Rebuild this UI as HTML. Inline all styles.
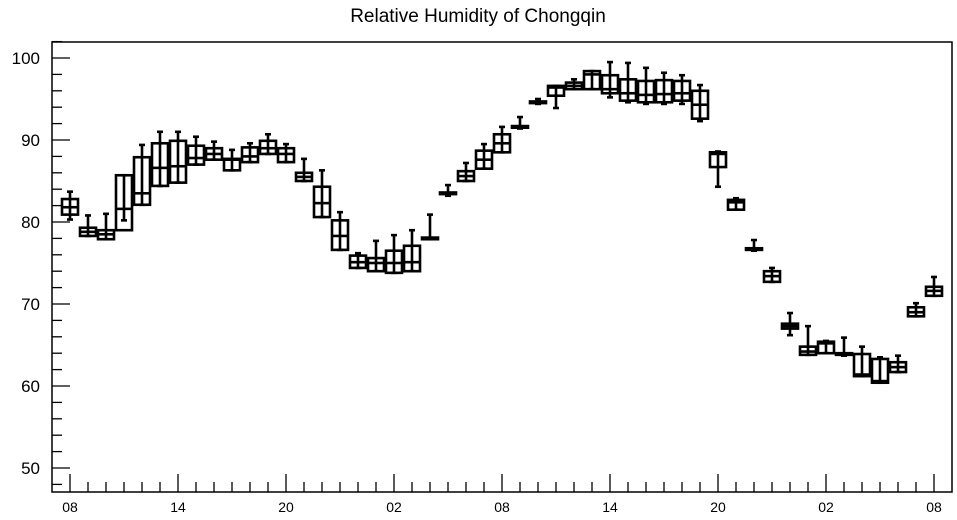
<!DOCTYPE html>
<html><head><meta charset="utf-8"><style>
html,body{margin:0;padding:0;background:#fff;}
svg{display:block;font-family:"Liberation Sans",Arial,sans-serif;}
</style></head><body>
<svg id="chart" width="957" height="520" viewBox="0 0 957 520">
<text x="478" y="22" text-anchor="middle" font-size="19">Relative Humidity of Chongqin</text>
<rect x="52" y="42" width="900" height="450" fill="none" stroke="#000" stroke-width="1.5"/>
<g id="yaxis"></g>
<g id="xaxis"></g>
<g id="boxes"></g>
</svg>
<script>
const xLabels = ["08","14","20","02","08","14","20","02","08"];
const yTicks = [50,60,70,80,90,100];
// per-hour box stats: whisker low, q1, median, q3, whisker high
const whiskerLow = [80.3,78.3,77.9,80.2,82.1,84.4,84.8,87.0,87.6,86.3,87.3,88.3,87.3,85.0,80.6,76.6,74.4,74.0,73.8,74.0,77.9,83.2,85.0,86.5,88.5,91.4,94.4,93.9,96.2,96.2,95.2,94.6,94.4,94.4,94.4,92.3,84.3,81.5,76.5,72.7,66.2,63.8,64.0,63.7,61.2,60.4,61.7,68.5,71.0];
const q1 = [80.9,78.3,77.9,79.0,82.1,84.4,84.8,87.0,87.6,86.3,87.3,88.3,87.3,85.0,80.6,76.6,74.4,74.0,73.8,74.0,77.9,83.4,85.0,86.5,88.5,91.5,94.5,95.4,96.2,96.2,95.7,94.8,94.6,94.6,94.8,92.6,86.7,81.5,76.6,72.7,67.0,63.8,64.0,63.8,61.2,60.4,61.7,68.5,71.0];
const median = [81.8,78.8,78.5,81.6,83.5,86.6,86.8,87.8,88.3,87.6,88.0,89.0,88.3,85.5,82.3,78.3,75.1,75.0,75.0,75.1,78.0,83.5,85.6,87.6,89.6,91.6,94.6,96.4,96.6,98.0,96.2,95.7,95.5,95.6,95.7,94.3,88.3,82.4,76.7,73.4,67.3,64.2,65.2,63.9,61.4,60.6,62.3,69.0,71.6];
const q3 = [82.8,79.3,79.0,85.7,87.9,89.6,89.9,89.3,89.0,87.7,89.1,89.9,89.0,86.0,84.3,80.2,75.9,75.6,76.5,77.1,78.1,83.6,86.2,88.7,90.7,91.7,94.7,96.6,97.0,98.4,97.9,97.4,97.2,97.3,97.2,96.0,88.5,82.7,76.8,74.0,67.6,64.8,65.4,64.0,63.9,63.3,62.9,69.6,72.1];
const whiskerHigh = [83.7,80.8,81.0,85.7,89.4,91.0,91.0,90.4,89.8,88.8,89.6,90.7,89.5,87.7,86.3,81.2,76.2,77.7,78.4,79.0,80.9,84.5,87.2,89.5,91.6,92.8,95.0,96.6,97.4,98.4,99.5,99.4,98.8,98.2,97.9,96.7,88.6,82.9,77.8,74.4,68.9,67.3,65.5,65.9,64.8,63.5,63.7,70.1,73.3];

const NS="http://www.w3.org/2000/svg";
const X0=70, PX_HR=18, Y100=58, PX_UNIT=8.2;
const xs = i => X0 + i*PX_HR;
const ys = v => Y100 + (100 - v)*PX_UNIT;
function mk(tag, attrs, parent){const e=document.createElementNS(NS,tag);for(const k in attrs)e.setAttribute(k,attrs[k]);parent.appendChild(e);return e;}

const ya=document.getElementById('yaxis');
for(let v=48; v<=102; v+=2){
  const major = v%10===0;
  const t=mk('line',{x1:52,x2:52+(major?18:10),y1:ys(v),y2:ys(v),stroke:'#000','stroke-width':1.3},ya);
  
  
}
yTicks.forEach(v=>{
  const t=mk('text',{x:40,y:ys(v)+6,'text-anchor':'end','font-size':17},ya);
  t.textContent=v;
  
  
});
const xa=document.getElementById('xaxis');
const nHours = whiskerLow.length;
for(let i=-1;i<=nHours;i++){
  const x=xs(i); if(x<53||x>951) continue;
  const major = i%6===0;
  const t=mk('line',{x1:x,x2:x,y1:492,y2:492-(major?18:10),stroke:'#000','stroke-width':1.3},xa);
  
  
}
xLabels.forEach((l,k)=>{
  const t=mk('text',{x:xs(k*6),y:512,'text-anchor':'middle','font-size':14},xa);
  t.textContent=l;
  
  
});
const bg=document.getElementById('boxes');
for(let i=0;i<nHours;i++){
  const g=mk('g',{},bg);
  
  
  const x=xs(i), w=16, sw=2.6;
  mk('line',{x1:x,x2:x,y1:ys(whiskerHigh[i]),y2:ys(whiskerLow[i]),stroke:'#000','stroke-width':sw},g);
  mk('line',{x1:x-3,x2:x+3,y1:ys(whiskerHigh[i]),y2:ys(whiskerHigh[i]),stroke:'#000','stroke-width':sw},g);
  mk('line',{x1:x-3,x2:x+3,y1:ys(whiskerLow[i]),y2:ys(whiskerLow[i]),stroke:'#000','stroke-width':sw},g);
  const top=ys(q3[i]), bot=ys(q1[i]);
  mk('rect',{x:x-w/2,y:top,width:w,height:Math.max(bot-top,0.5),fill:'none',stroke:'#000','stroke-width':sw},g);
  mk('line',{x1:x-w/2,x2:x+w/2,y1:ys(median[i]),y2:ys(median[i]),stroke:'#000','stroke-width':sw},g);
}
</script>
</body></html>
